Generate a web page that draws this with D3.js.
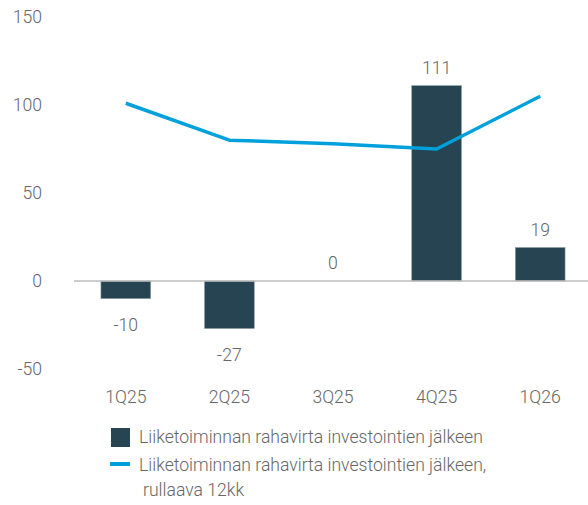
<!DOCTYPE html>
<html>
<head>
<meta charset="utf-8">
<script src="https://cdn.jsdelivr.net/npm/d3@7"></script>
<style>
  html, body { margin: 0; padding: 0; background: #fff; }
  svg text { font-family: Roboto, "Liberation Sans", sans-serif; font-weight: 300; fill: #666; }
</style>
</head>
<body>
<svg id="chart" width="588" height="505"></svg>
<script>
// Quarterly figures (MEUR)
const quarters = ["1Q25", "2Q25", "3Q25", "4Q25", "1Q26"];
const cashFlow = [-10, -27, 0, 111, 19];
const rolling12 = [101, 80, 78, 75, 105];
const yTicks = [-50, 0, 50, 100, 150];
const legendLabels = [
  "Liiketoiminnan rahavirta investointien jälkeen",
  ["Liiketoiminnan rahavirta investointien jälkeen,", "rullaava 12kk"]
];

const barColor = "#264452";
const lineColor = "#00a0dc";
const fontFamily = "Roboto, 'Liberation Sans', sans-serif";
const fontSize = 17.6;

const svg = d3.select("#chart");

const x = d3.scaleBand()
  .domain(quarters)
  .range([74, 592])
  .paddingInner(0.52)
  .paddingOuter(0.26);

const y = d3.scaleLinear()
  .domain([-50, 150])
  .range([369, 17]);

// Y axis labels
const yAxis = d3.axisLeft(y).tickValues(yTicks).tickFormat(d => String(d)).tickSize(0).tickPadding(0);
svg.append("g")
  .attr("transform", "translate(42,0)")
  .call(yAxis)
  .call(g => g.select(".domain").remove())
  .call(g => g.selectAll("text").attr("font-size", fontSize).attr("fill", "#666")
    .style("font-family", fontFamily).style("font-weight", 300));

// Bars
svg.append("g").selectAll("rect")
  .data(quarters.map((q, i) => ({ q, v: cashFlow[i] })))
  .join("rect")
  .attr("x", d => x(d.q))
  .attr("width", x.bandwidth())
  .attr("y", d => y(Math.max(0, d.v)))
  .attr("height", d => Math.abs(y(d.v) - y(0)))
  .attr("fill", barColor)
  .attr("stroke", "#8c9ba2")
  .attr("stroke-width", 0.6);

// Zero line
svg.append("line")
  .attr("x1", 74).attr("x2", 588)
  .attr("y1", y(0)).attr("y2", y(0))
  .attr("stroke", "#bdbdbd")
  .attr("stroke-width", 1.5);

// Rolling 12-month line
const line = d3.line()
  .x((d, i) => x(quarters[i]) + x.bandwidth() / 2)
  .y(d => y(d));

svg.append("path")
  .datum(rolling12)
  .attr("d", line)
  .attr("fill", "none")
  .attr("stroke", lineColor)
  .attr("stroke-width", 3.5)
  .attr("stroke-linejoin", "round");

// Value labels
svg.append("g").selectAll("text")
  .data(quarters.map((q, i) => ({ q, v: cashFlow[i] })))
  .join("text")
  .attr("x", d => x(d.q) + x.bandwidth() / 2)
  .attr("y", d => d.v >= 0 ? y(d.v) - 12 : y(d.v) + 32)
  .attr("text-anchor", "middle")
  .attr("font-size", fontSize)
  .text(d => d.v);

// X axis labels
const xAxis = d3.axisBottom(x).tickSize(0).tickPadding(0);
svg.append("g")
  .attr("transform", "translate(0,390)")
  .call(xAxis)
  .call(g => g.select(".domain").remove())
  .call(g => g.selectAll("text").attr("font-size", fontSize).attr("fill", "#666")
    .attr("dy", "0.71em")
    .style("font-family", fontFamily).style("font-weight", 300));

// Legend
const legend = svg.append("g");
legend.append("rect")
  .attr("x", 111).attr("y", 428)
  .attr("width", 19).attr("height", 19)
  .attr("fill", barColor);
legend.append("text")
  .attr("x", 139).attr("y", 443)
  .attr("font-size", fontSize)
  .text(legendLabels[0]);

legend.append("line")
  .attr("x1", 110).attr("x2", 130)
  .attr("y1", 464).attr("y2", 464)
  .attr("stroke", lineColor)
  .attr("stroke-width", 4);
legend.append("text")
  .attr("x", 139).attr("y", 471)
  .attr("font-size", fontSize)
  .text(legendLabels[1][0]);
legend.append("text")
  .attr("x", 143).attr("y", 496)
  .attr("font-size", fontSize)
  .text(legendLabels[1][1]);
</script>
</body>
</html>
